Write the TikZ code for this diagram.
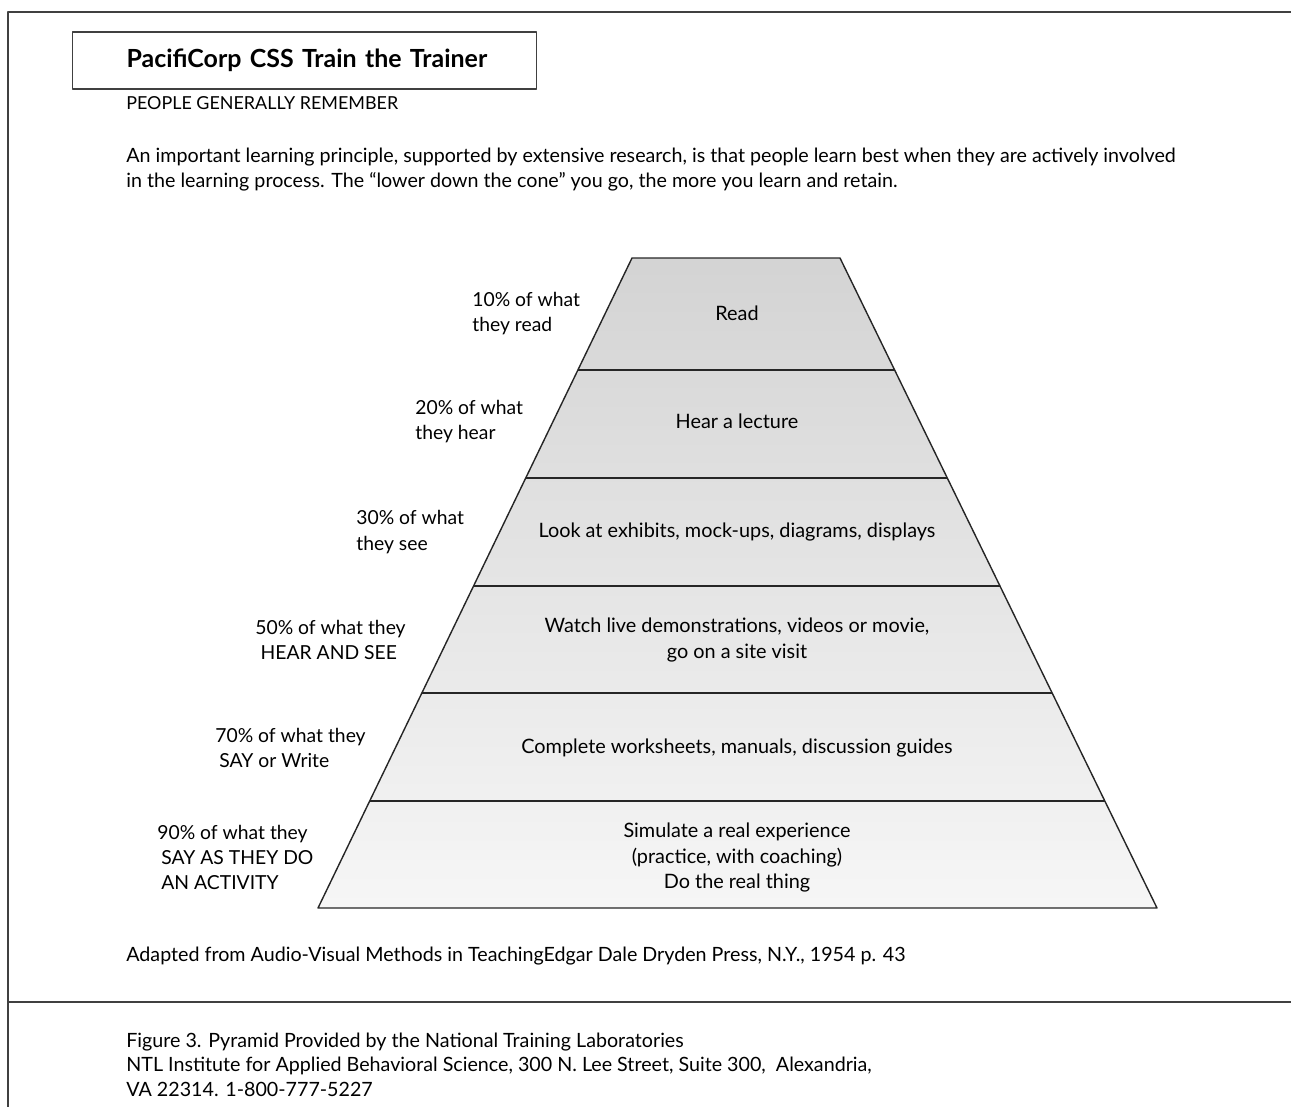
\documentclass[tikz,border=0pt]{standalone}
\usepackage{fontspec}
\setmainfont{Lato}
\usepackage{tikz}
\usetikzlibrary{calc,positioning}
\tikzset{
frame/.style={draw=black!75,line width=1.1pt},
coneline/.style={draw=black!85,line width=0.8pt},
rowtext/.style={align=center,font=\fontsize{11.3}{14.5}\selectfont,inner sep=0pt},
lefttext/.style={anchor=west,align=left,font=\fontsize{11}{14.4}\selectfont,inner sep=0pt},
plaintext/.style={anchor=west,align=left,font=\fontsize{11.2}{14.2}\selectfont,inner sep=0pt}
}
\newcommand \mydrawlevel[5]
{
\node[rowtext]  (r#1) at (737,#2) {#5};
\node[lefttext] (l#1) at (#3,#2)  {#4};
}

\begin{document}
\begin{tikzpicture}[x=0.02cm,y=-0.02cm,line join=round]
\useasboundingbox (0,0) rectangle (1291,1107);
% page frame
\draw[frame] (1291,12)--(8,12)--(8,1107);
\draw[frame] (8,1002)--(1291,1002);
% heading
\node[draw=black!75,line width=0.6pt,anchor=west,minimum height=1.14cm,text width=7.12cm,inner xsep=1.08cm,align=left,
      font=\fontsize{14.2}{17}\selectfont\bfseries] (title) at (72,60.5) {\mbox{PacifiCorp CSS Train the Trainer}};
\node[plaintext,font=\fontsize{10.2}{14}\selectfont] (remember) at (126,103) {PEOPLE GENERALLY REMEMBER};
\node[plaintext] (intro) at (126,169.5) {An important learning principle, supported by extensive research, is that people learn best when they are actively involved\\
in the learning process. The \textquotedblleft lower down the cone\textquotedblright{} you go, the more you learn and retain.};
% cone
\coordinate (TL) at (632,258);
\coordinate (TR) at (840,258);
\coordinate (BL) at (318,908);
\coordinate (BR) at (1157,908);
\shade[top color=gray!34,bottom color=gray!7] (TL)--(TR)--(BR)--(BL)--cycle;
\draw[coneline] (TL)--(TR)--(BR)--(BL)--cycle;
\foreach \t in {0.1723,0.3385,0.5046,0.6692,0.8354}
  \draw[coneline] ($(TL)!\t!(BL)$)--($(TR)!\t!(BR)$);
% levels
\mydrawlevel{1}{313.5}{472}{10\% of what\\they read}{Read}
\mydrawlevel{2}{421.5}{415}{20\% of what\\they hear}{Hear a lecture}
\mydrawlevel{3}{532}{356}{30\% of what\\they see}{Look at exhibits, mock-ups, diagrams, displays}
\mydrawlevel{4}{640}{255}{50\% of what they\\\hspace{3pt}HEAR AND SEE}{Watch live demonstrations, videos or movie,\\go on a site visit}
\mydrawlevel{5}{748}{215}{70\% of what they\\\hspace{2.3pt}SAY or Write}{Complete worksheets, manuals, discussion guides}
\mydrawlevel{6}{857.5}{157}{90\% of what they\\\hspace{2.3pt}SAY AS THEY DO\\\hspace{2.3pt}AN ACTIVITY}{Simulate a real experience\\(practice, with coaching)\\Do the real thing}
% sources
\node[plaintext] (adapted) at (126,956) {Adapted from Audio-Visual Methods in TeachingEdgar Dale Dryden Press, N.Y., 1954 p. 43};
\node[plaintext,font=\fontsize{11.2}{13.9}\selectfont] (figure) at (126,1064.5) {Figure 3. Pyramid Provided by the National Training Laboratories\\
NTL Institute for Applied Behavioral Science, 300 N. Lee Street, Suite 300,\ \ Alexandria,\\
VA 22314. 1-800-777-5227};
\end{tikzpicture}
\end{document}
